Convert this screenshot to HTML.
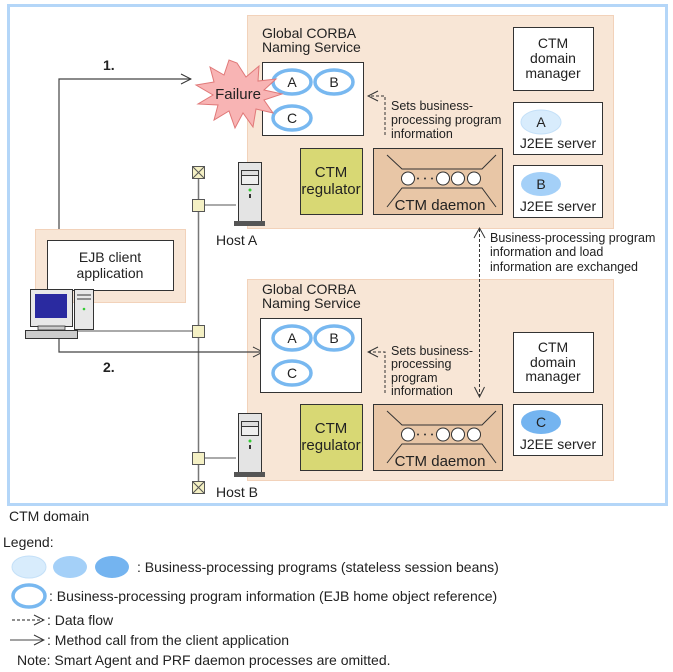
<!DOCTYPE html>
<html><head><meta charset="utf-8"><style>
html,body{margin:0;padding:0;background:#fff;}
svg{display:block;font-family:"Liberation Sans",Arial,sans-serif;font-size:14px;fill:#222;}
</style></head><body>
<svg width="673" height="672" viewBox="0 0 673 672" xmlns="http://www.w3.org/2000/svg">
<defs>
<marker id="oa" markerWidth="12" markerHeight="12" refX="11" refY="6" orient="auto" markerUnits="userSpaceOnUse"><path d="M1,1 L11,6 L1,11" fill="none" stroke="#333" stroke-width="1"/></marker>
</defs>
<rect x="8.5" y="5.5" width="658" height="499" fill="#fff" stroke="#b4d6f8" stroke-width="3"/>
<rect x="247.5" y="15.5" width="366" height="213" fill="#f8e6d6" stroke="#f2d2ba"/>
<rect x="247.5" y="279.5" width="366" height="201" fill="#f8e6d6" stroke="#f2d2ba"/>
<rect x="35.5" y="229.5" width="150" height="73" fill="#f8e6d6" stroke="#f2d2ba"/>
<rect x="47.5" y="240.5" width="126" height="50" fill="#fff" stroke="#333"/>
<text x="110" y="262" text-anchor="middle">EJB client</text>
<text x="110" y="278" text-anchor="middle">application</text>

<line x1="198.5" y1="172" x2="198.5" y2="490" stroke="#777" stroke-width="1.5"/>
<line x1="198" y1="205" x2="236" y2="205" stroke="#555"/>
<line x1="198" y1="458" x2="236" y2="458" stroke="#555"/>
<line x1="75" y1="331" x2="198" y2="331" stroke="#555"/>
<g fill="#f4f0c4" stroke="#555">
<rect x="192.5" y="166.5" width="12" height="12"/>
<rect x="192.5" y="199.5" width="12" height="12"/>
<rect x="192.5" y="325.5" width="12" height="12"/>
<rect x="192.5" y="452.5" width="12" height="12"/>
<rect x="192.5" y="481.5" width="12" height="12"/>
</g>
<path d="M193,167 L204,178 M204,167 L193,178 M193,482 L204,493 M204,482 L193,493" stroke="#555"/>

<g>
<rect x="238.5" y="162.5" width="23" height="59" fill="#e4e4e4" stroke="#333"/>
<rect x="241.5" y="170.5" width="17" height="5" fill="#ddd" stroke="#333"/>
<rect x="241.5" y="175.5" width="17" height="9" fill="#eee" stroke="#333"/>
<circle cx="250" cy="190" r="1.5" fill="#3c3"/>
<rect x="249" y="194" width="2" height="4" fill="#333"/>
<rect x="234" y="221" width="31" height="5" fill="#555"/>
</g>
<text x="216" y="245">Host A</text>
<g transform="translate(0,251)">
<rect x="238.5" y="162.5" width="23" height="59" fill="#e4e4e4" stroke="#333"/>
<rect x="241.5" y="170.5" width="17" height="5" fill="#ddd" stroke="#333"/>
<rect x="241.5" y="175.5" width="17" height="9" fill="#eee" stroke="#333"/>
<circle cx="250" cy="190" r="1.5" fill="#3c3"/>
<rect x="249" y="194" width="2" height="4" fill="#333"/>
<rect x="234" y="221" width="31" height="5" fill="#555"/>
</g>
<text x="216" y="497">Host B</text>

<rect x="30.5" y="289.5" width="42" height="37" fill="#e8e8e8" stroke="#333"/>
<rect x="35" y="294" width="32" height="24" fill="#2a2aa0"/>
<rect x="74.5" y="289.5" width="19" height="40" fill="#e8e8e8" stroke="#333"/>
<line x1="77" y1="295" x2="91" y2="295" stroke="#333"/>
<line x1="77" y1="299" x2="91" y2="299" stroke="#333"/>
<circle cx="84" cy="309" r="1.3" fill="#3c3"/>
<rect x="38" y="326" width="27" height="4" fill="#ccc" stroke="#333" stroke-width="0.8"/>
<rect x="25.5" y="330.5" width="52" height="8" fill="#ccc" stroke="#333"/>

<polyline points="59,229 59,79 191,79" fill="none" stroke="#444" stroke-width="1.2" marker-end="url(#oa)"/>
<text x="103" y="70" font-weight="bold">1.</text>
<polyline points="59,339 59,352 263,352" fill="none" stroke="#444" stroke-width="1.2" marker-end="url(#oa)"/>
<text x="103" y="372" font-weight="bold">2.</text>

<text x="262" y="38">Global CORBA</text>
<text x="262" y="52">Naming Service</text>
<rect x="262.5" y="62.5" width="101" height="73" fill="#fff" stroke="#333"/>
<g fill="#fff" stroke="#78b8f0" stroke-width="3.5">
<ellipse cx="292" cy="82" rx="19" ry="12"/>
<ellipse cx="334" cy="82" rx="19" ry="12"/>
<ellipse cx="292" cy="118" rx="19" ry="12"/>
</g>
<text x="292" y="87" text-anchor="middle">A</text>
<text x="334" y="87" text-anchor="middle">B</text>
<text x="292" y="123" text-anchor="middle">C</text>
<polygon points="237,63 246,77 259,66 258,81 276,79 264,90 282,94 264,100 273,113 256,109 253,127 243,113 235,128 229,111 214,120 218,105 198,104 213,95 196,85 214,82 210,67 224,75 229,60" fill="#f8b4b4" stroke="#e07878"/>
<text x="238" y="99" text-anchor="middle" font-size="15">Failure</text>

<polyline points="385,135 385,96 368,96" fill="none" stroke="#333" stroke-dasharray="3,2" marker-end="url(#oa)"/>
<text x="391" y="110" font-size="12.5">Sets business-</text>
<text x="391" y="124" font-size="12.5">processing program</text>
<text x="391" y="138" font-size="12.5">information</text>

<rect x="513.5" y="27.5" width="80" height="63" fill="#fff" stroke="#333"/>
<text x="553" y="48" text-anchor="middle">CTM</text>
<text x="553" y="63" text-anchor="middle">domain</text>
<text x="553" y="78" text-anchor="middle">manager</text>

<rect x="513.5" y="102.5" width="89" height="52" fill="#fff" stroke="#333"/>
<ellipse cx="541" cy="122" rx="20" ry="12" fill="#d8ecfc" stroke="#c4e0f8"/>
<text x="541" y="127" text-anchor="middle">A</text>
<text x="558" y="148" text-anchor="middle">J2EE server</text>
<rect x="513.5" y="165.5" width="89" height="52" fill="#fff" stroke="#333"/>
<ellipse cx="541" cy="184" rx="20" ry="12" fill="#a4d0f8"/>
<text x="541" y="189" text-anchor="middle">B</text>
<text x="558" y="211" text-anchor="middle">J2EE server</text>

<rect x="300.5" y="148.5" width="62" height="66" fill="#d8d874" stroke="#333"/>
<text x="331" y="177" text-anchor="middle" font-size="15">CTM</text>
<text x="331" y="194" text-anchor="middle" font-size="15">regulator</text>
<g>
<rect x="373.5" y="148.5" width="129" height="66" fill="#e8c6a6" stroke="#333"/>
<path d="M387,155 L402,169 L482,169 L496,155 M387,207 L402,188 L482,188 L496,207" fill="none" stroke="#333"/>
<g fill="#fff" stroke="#333"><circle cx="408" cy="178.5" r="6.5"/><circle cx="443" cy="178.5" r="6.5"/><circle cx="458" cy="178.5" r="6.5"/><circle cx="474" cy="178.5" r="6.5"/></g>
<g fill="#333"><circle cx="418" cy="178.5" r="1"/><circle cx="425" cy="178.5" r="1"/><circle cx="432" cy="178.5" r="1"/></g>
<text x="440" y="210" text-anchor="middle" font-size="15">CTM daemon</text>
</g>

<line x1="479.5" y1="229" x2="479.5" y2="397" stroke="#333" stroke-dasharray="3,2" marker-end="url(#oa)"/>
<path d="M474,238 L479.5,228 L485,238" fill="none" stroke="#333"/>
<text x="490" y="242" font-size="12.5">Business-processing program</text>
<text x="490" y="256" font-size="12.5">information and load</text>
<text x="490" y="271" font-size="12.5">information are exchanged</text>

<text x="262" y="294">Global CORBA</text>
<text x="262" y="308">Naming Service</text>
<rect x="260.5" y="318.5" width="101" height="74" fill="#fff" stroke="#333"/>
<g fill="#fff" stroke="#78b8f0" stroke-width="3.5">
<ellipse cx="292" cy="338" rx="19" ry="12"/>
<ellipse cx="334" cy="338" rx="19" ry="12"/>
<ellipse cx="292" cy="373" rx="19" ry="12"/>
</g>
<text x="292" y="343" text-anchor="middle">A</text>
<text x="334" y="343" text-anchor="middle">B</text>
<text x="292" y="378" text-anchor="middle">C</text>
<polyline points="385,393 385,352 368,352" fill="none" stroke="#333" stroke-dasharray="3,2" marker-end="url(#oa)"/>
<text x="391" y="355" font-size="12.5">Sets business-</text>
<text x="391" y="368" font-size="12.5">processing</text>
<text x="391" y="382" font-size="12.5">program</text>
<text x="391" y="395" font-size="12.5">information</text>

<rect x="513.5" y="332.5" width="80" height="60" fill="#fff" stroke="#333"/>
<text x="553" y="352" text-anchor="middle">CTM</text>
<text x="553" y="367" text-anchor="middle">domain</text>
<text x="553" y="381" text-anchor="middle">manager</text>
<rect x="513.5" y="404.5" width="89" height="51" fill="#fff" stroke="#333"/>
<ellipse cx="541" cy="422" rx="20" ry="12" fill="#74b4f0"/>
<text x="541" y="427" text-anchor="middle">C</text>
<text x="558" y="449" text-anchor="middle">J2EE server</text>

<rect x="300.5" y="404.5" width="62" height="66" fill="#d8d874" stroke="#333"/>
<text x="331" y="433" text-anchor="middle" font-size="15">CTM</text>
<text x="331" y="450" text-anchor="middle" font-size="15">regulator</text>
<g transform="translate(0,256)">
<rect x="373.5" y="148.5" width="129" height="66" fill="#e8c6a6" stroke="#333"/>
<path d="M387,155 L402,169 L482,169 L496,155 M387,207 L402,188 L482,188 L496,207" fill="none" stroke="#333"/>
<g fill="#fff" stroke="#333"><circle cx="408" cy="178.5" r="6.5"/><circle cx="443" cy="178.5" r="6.5"/><circle cx="458" cy="178.5" r="6.5"/><circle cx="474" cy="178.5" r="6.5"/></g>
<g fill="#333"><circle cx="418" cy="178.5" r="1"/><circle cx="425" cy="178.5" r="1"/><circle cx="432" cy="178.5" r="1"/></g>
<text x="440" y="210" text-anchor="middle" font-size="15">CTM daemon</text>
</g>

<text x="9" y="521">CTM domain</text>
<text x="3" y="547">Legend:</text>
<ellipse cx="29" cy="567" rx="17" ry="11" fill="#d8ecfc" stroke="#c4e0f8"/>
<ellipse cx="70" cy="567" rx="17" ry="11" fill="#a4d0f8"/>
<ellipse cx="112" cy="567" rx="17" ry="11" fill="#74b4f0"/>
<text x="137" y="572">: Business-processing programs (stateless session beans)</text>
<ellipse cx="29" cy="596" rx="16" ry="11" fill="#fff" stroke="#78b8f0" stroke-width="3.5"/>
<text x="49" y="601">: Business-processing program information (EJB home object reference)</text>
<line x1="12" y1="620" x2="44" y2="620" stroke="#222" stroke-dasharray="3,2" marker-end="url(#oa)"/>
<text x="47" y="625">: Data flow</text>
<line x1="10" y1="640" x2="44" y2="640" stroke="#444" marker-end="url(#oa)"/>
<text x="47" y="645">: Method call from the client application</text>
<text x="17" y="665">Note: Smart Agent and PRF daemon processes are omitted.</text>
</svg>
</body></html>
